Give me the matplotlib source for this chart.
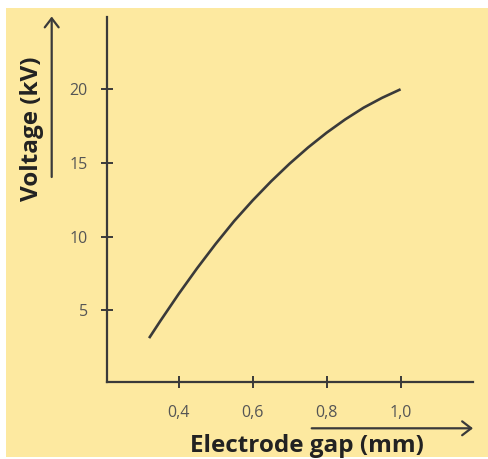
import matplotlib
matplotlib.use("Agg")
import matplotlib.pyplot as plt
from matplotlib.patches import Rectangle, FancyArrowPatch

# Data
gap_mm = [0.32, 0.35, 0.40, 0.45, 0.50, 0.55, 0.60, 0.65, 0.70, 0.75, 0.80, 0.85, 0.90, 0.95, 1.00]
voltage_kv = [3.1, 4.25, 6.1, 7.85, 9.5, 11.05, 12.45, 13.75, 14.95, 16.05, 17.05, 17.95, 18.75, 19.42, 20.0]
x_ticks = [0.4, 0.6, 0.8, 1.0]
x_tick_labels = ["0,4", "0,6", "0,8", "1,0"]
y_ticks = [5, 10, 15, 20]
y_tick_labels = ["5", "10", "15", "20"]

W, H = 488, 459
BG = "#FDE9A0"
INK = "#3a3a3a"

fig = plt.figure(figsize=(W / 100, H / 100), dpi=100)
fig.patch.set_facecolor("white")
fig.patches.append(Rectangle((6 / W, 2 / H), (W - 6) / W, (H - 8 - 2) / H,
                             transform=fig.transFigure, facecolor=BG,
                             edgecolor="none", zorder=-10))

ax = fig.add_axes([107.3 / W, (H - 381.7) / H, (472.7 - 107.3) / W, (381.7 - 16.7) / H])
ax.set_zorder(5)
ax.set_facecolor("none")
ax.plot(gap_mm, voltage_kv, color=INK, lw=1.9, solid_capstyle="butt", solid_joinstyle="round")
ax.set_xlim(0.207, 1.195)
ax.set_ylim(0.14, 24.93)

for s in ["top", "right"]:
    ax.spines[s].set_visible(False)
for s in ["left", "bottom"]:
    ax.spines[s].set_color(INK)
    ax.spines[s].set_linewidth(1.6)

ax.set_xticks(x_ticks)
ax.set_xticklabels(x_tick_labels)
ax.set_yticks(y_ticks)
ax.set_yticklabels(y_tick_labels)
ax.tick_params(direction="inout", length=8, width=1.4, color=INK,
               labelcolor="#555555", labelsize=11.5)
ax.tick_params(axis="x", pad=13)
ax.tick_params(axis="y", pad=10)
for lab in ax.get_xticklabels() + ax.get_yticklabels():
    lab.set_family("Open Sans")

# Axis titles
fig.text(307 / W, (H - 446) / H, "Electrode gap (mm)", ha="center", va="center",
         fontsize=17.5, fontweight="bold", family="Open Sans", color="#222222")
fig.text(32 / W, (H - 129) / H, "Voltage (kV)", ha="center", va="center",
         rotation=90, fontsize=17.5, fontweight="bold", family="Open Sans", color="#222222")

# Arrows
fig.patches.append(FancyArrowPatch((51.7 / W, (H - 177) / H), (51.7 / W, (H - 16.5) / H),
                                   transform=fig.transFigure, arrowstyle="->,head_length=6.5,head_width=5",
                                   color=INK, lw=1.6, mutation_scale=1, shrinkA=0, shrinkB=0, zorder=3))
fig.patches.append(FancyArrowPatch((311.7 / W, (H - 428.3) / H), (473 / W, (H - 428.3) / H),
                                   transform=fig.transFigure, arrowstyle="->,head_length=6.5,head_width=5",
                                   color=INK, lw=1.6, mutation_scale=1, shrinkA=0, shrinkB=0, zorder=3))

fig.savefig("out.png", dpi=100, facecolor=fig.get_facecolor())
